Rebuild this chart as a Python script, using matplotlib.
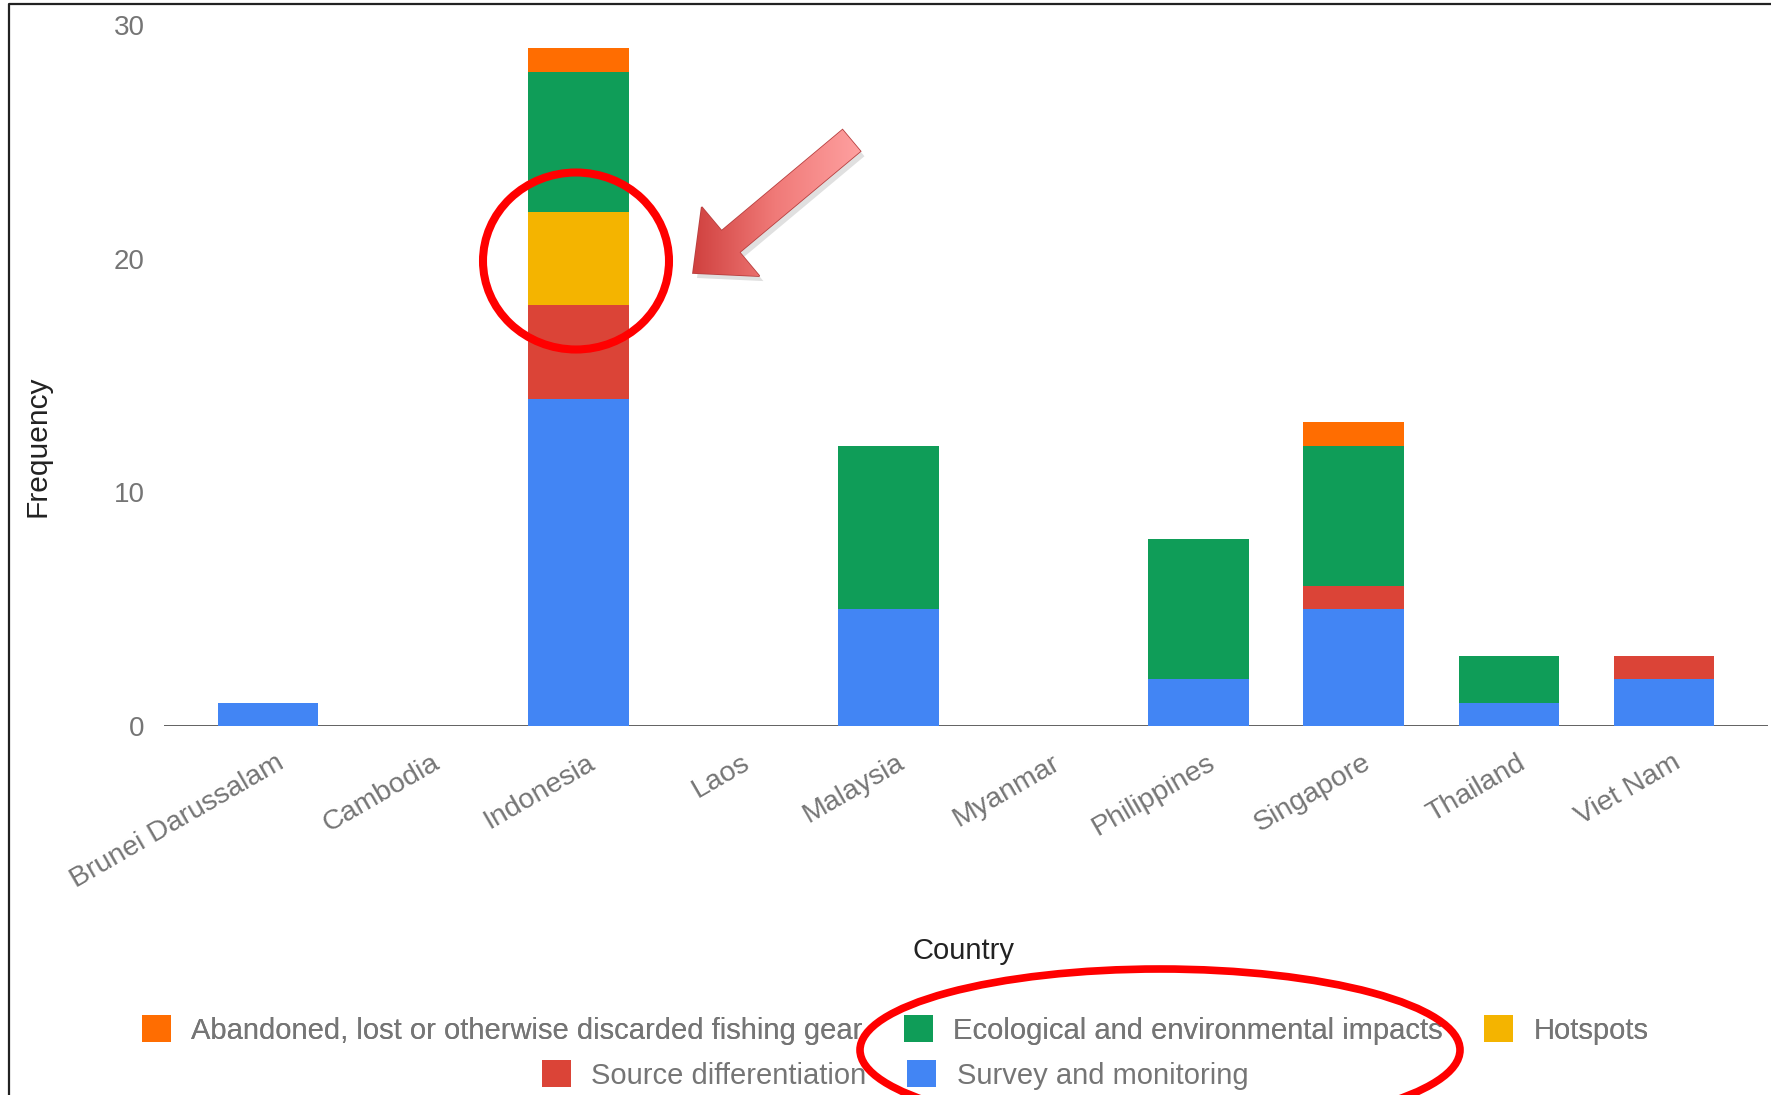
import numpy as np
import matplotlib
matplotlib.use("Agg")
import matplotlib.pyplot as plt
from matplotlib.patches import Patch, Ellipse, FancyArrow
from matplotlib.lines import Line2D
import matplotlib.transforms as mtransforms

plt.rcParams['font.family'] = ['Liberation Sans', 'DejaVu Sans']

countries = ['Brunei Darussalam', 'Cambodia', 'Indonesia', 'Laos', 'Malaysia',
             'Myanmar', 'Philippines', 'Singapore', 'Thailand', 'Viet Nam']

# stacked from the bottom up
survey = [1, 0, 14, 0, 5, 0, 2, 5, 1, 2]
source = [0, 0, 4, 0, 0, 0, 0, 1, 0, 1]
hotspots = [0, 0, 4, 0, 0, 0, 0, 0, 0, 0]
ecological = [0, 0, 6, 0, 7, 0, 6, 6, 2, 0]
abandoned = [0, 0, 1, 0, 0, 0, 0, 1, 0, 0]

series = [
    ('Survey and monitoring', survey, '#4285F4'),
    ('Source differentiation', source, '#DB4437'),
    ('Hotspots', hotspots, '#F4B400'),
    ('Ecological and environmental impacts', ecological, '#0F9D58'),
    ('Abandoned, lost or otherwise discarded fishing gear', abandoned, '#FF6D01'),
]

W, H = 1771, 1095
fig = plt.figure(figsize=(W / 100, H / 100), dpi=100)
fig.patch.set_facecolor('white')

# axes placed in pixel terms of the screenshot
ax = fig.add_axes([164 / W, 1 - 726 / H, (1768 - 164) / W, (726 - 25) / H])
x = np.arange(len(countries))
bottom = np.zeros(len(countries))
for name, vals, col in series:
    vals = np.array(vals, dtype=float)
    ax.bar(x, vals, 0.65, bottom=bottom, color=col, zorder=3, linewidth=0)
    bottom += vals

ax.axhline(0, color='#333333', lw=1.8, zorder=2)
ax.set_xlim(-0.67, 9.67)
ax.set_ylim(0, 30)
ax.set_yticks([0, 10, 20, 30])
for s in ax.spines.values():
    s.set_visible(False)
ax.tick_params(axis='y', length=0, pad=14, labelsize=20, labelcolor='#757575')
ax.tick_params(axis='x', length=0, pad=17, labelsize=20.5, labelcolor='#757575')
ax.set_xticks(x)
ax.set_xticklabels(countries, rotation=30, ha='right', va='top', rotation_mode='anchor')
offset = mtransforms.ScaledTranslation(8 / 100, 0, fig.dpi_scale_trans)
for lab in ax.get_xticklabels():
    lab.set_transform(lab.get_transform() + offset)

fig.text(37 / W, 1 - 446 / H, 'Frequency', rotation=90, ha='center', va='center',
         fontsize=21.5, color='#222222')
fig.text(964 / W, 1 - 951 / H, 'Country', ha='center', va='center',
         fontsize=21, color='#222222')

# legend in two centred rows, like the google chart
handles = {name: Patch(facecolor=col, edgecolor='none') for name, vals, col in series}
row1 = ['Abandoned, lost or otherwise discarded fishing gear',
        'Ecological and environmental impacts', 'Hotspots']
row2 = ['Source differentiation', 'Survey and monitoring']
kw = dict(frameon=False, fontsize=21, labelcolor='#757575', handlelength=1.0,
          handleheight=1.0, handletextpad=0.7, columnspacing=1.4, loc='center',
          borderpad=0, borderaxespad=0)
leg1 = fig.legend([handles[n] for n in row1], row1, ncol=3,
                  bbox_to_anchor=(895 / W, 1 - 1030 / H), **kw)
fig.add_artist(leg1)
fig.legend([handles[n] for n in row2], row2, ncol=2,
           bbox_to_anchor=(895 / W, 1 - 1075 / H), **kw)

# overlay in screenshot pixels for the hand drawn marks
ov = fig.add_axes([0, 0, 1, 1], zorder=10)
ov.set_xlim(0, W)
ov.set_ylim(H, 0)
ov.axis('off')
ov.patch.set_alpha(0)

# frame of the screenshot (left and top edges)
ov.add_line(Line2D([9, 9, W], [H, 4, 4], color='#222222', lw=1.6))

ov.add_patch(Ellipse((576, 261), 186, 177, fill=False, edgecolor='#FF0000', lw=5.8))
ov.add_patch(Ellipse((1160, 1050), 600, 162, fill=False, edgecolor='#FF0000', lw=5.5))

# gradient arrow
tail = np.array([851.5, 140.5])
tip = np.array([693.0, 273.0])
d = tip - tail
shadow = FancyArrow(tail[0] + 4, tail[1] + 5, d[0], d[1], width=28, head_width=90,
                    head_length=49, length_includes_head=True, color='#000000',
                    alpha=0.12, lw=0)
ov.add_patch(shadow)
arrow = FancyArrow(tail[0], tail[1], d[0], d[1], width=28, head_width=90,
                   head_length=49, length_includes_head=True, facecolor='none',
                   edgecolor='#b84040', lw=1.2)
ov.add_patch(arrow)
grad = np.linspace(0, 1, 256).reshape(1, -1)
cmap = matplotlib.colors.LinearSegmentedColormap.from_list('arr', ['#cc3a38', '#f07a78', '#ffa3a3'])
img = ov.imshow(grad, cmap=cmap, extent=[tip[0] - 10, tail[0] + 15, tip[1] + 10, tail[1] - 15],
                aspect='auto', zorder=1)
img.set_clip_path(arrow)

fig.savefig('out.png', dpi=100)
